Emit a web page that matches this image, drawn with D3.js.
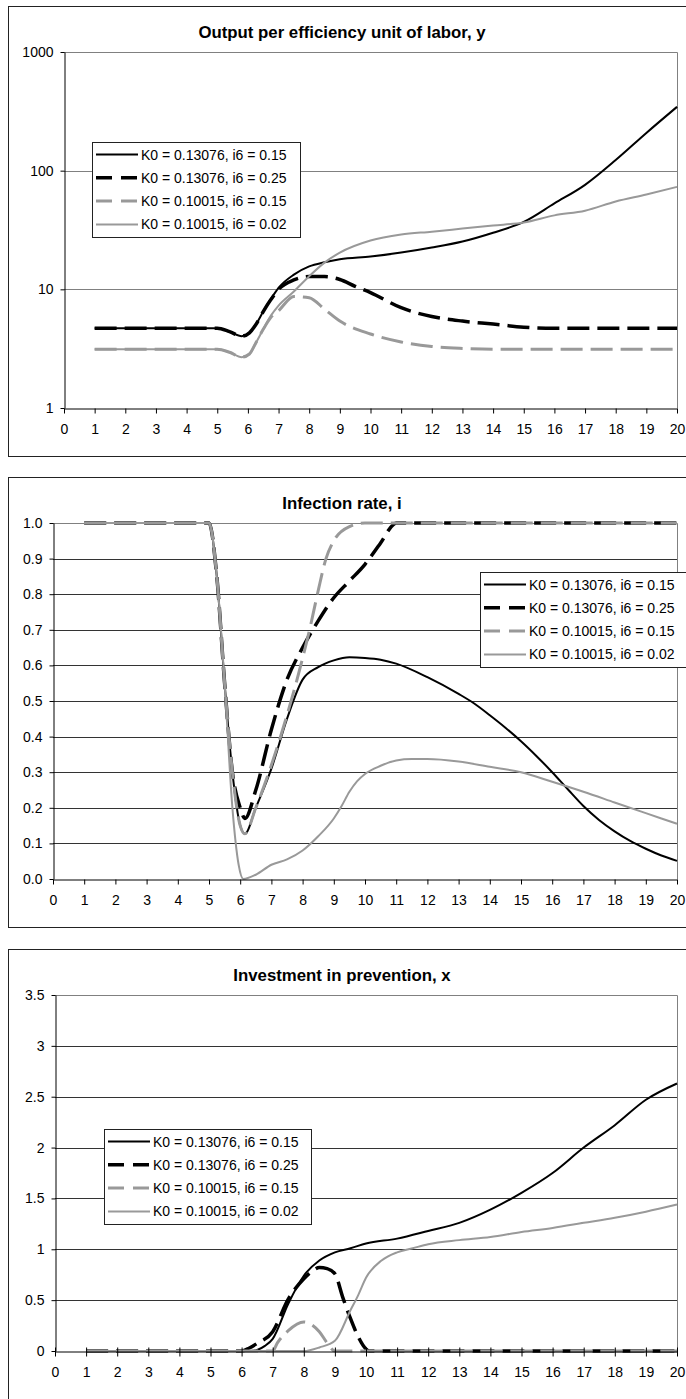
<!DOCTYPE html>
<html>
<head>
<meta charset="utf-8">
<script src="https://cdn.jsdelivr.net/npm/d3@7"></script>
<style>
body { margin: 0; background: #fff; }
svg { display: block; font-family: "Liberation Sans", Arial, sans-serif; }
</style>
</head>
<body>
<svg id="chart" width="686" height="1399"></svg>
<script>
// data: [t, value] pairs
var seriesLabels = ["K0 = 0.13076, i6 = 0.15", "K0 = 0.13076, i6 = 0.25",
                    "K0 = 0.10015, i6 = 0.15", "K0 = 0.10015, i6 = 0.02"];
var xTickValues = [0,1,2,3,4,5,6,7,8,9,10,11,12,13,14,15,16,17,18,19,20];

// output per efficiency unit of labor, y
var outA = [[1,4.7],[5,4.7],[5.4,4.4],[5.8,4.03],[6.05,4.3],[6.25,5.0],[6.5,6.5],[6.75,8.3],[7,10.3],[7.5,13.3],[8,15.6],[8.5,16.9],[9,17.9],[10,18.9],[11,20.4],[12,22.5],[13,25.3],[14,30],[15,37],[16,53],[17,76],[18,123],[19,208],[20,345]];
var outB = [[1,4.7],[5,4.7],[5.4,4.4],[5.8,4.03],[6.05,4.3],[6.25,5.0],[6.5,6.5],[6.75,8.2],[7,10],[7.5,12],[8,12.8],[8.5,12.8],[9,12.1],[9.5,10.6],[10,9.4],[11,7.0],[12,5.9],[13,5.4],[14,5.1],[15,4.8],[16,4.7],[20,4.7]];
var outC = [[1,3.13],[5,3.13],[5.4,2.95],[5.8,2.68],[6.05,2.85],[6.25,3.5],[6.5,4.6],[6.75,5.8],[7,6.6],[7.5,8.7],[8,8.5],[8.5,6.8],[9,5.4],[10,4.2],[11,3.6],[12,3.3],[13,3.18],[14,3.13],[20,3.13]];
var outD = [[1,3.13],[5,3.13],[5.4,2.95],[5.8,2.68],[6.05,2.85],[6.25,3.5],[6.5,4.6],[6.75,6.0],[7,7.3],[7.5,9.6],[8,12.9],[8.5,16.8],[9,20.4],[10,25.8],[11,29],[12,30.6],[13,32.5],[14,34.5],[15,36.6],[16,42],[17,46],[18,55],[19,63],[20,73]];

// infection rate, i
var infA = [[1,1],[5,1],[5.25,0.85],[5.5,0.55],[5.75,0.3],[6,0.15],[6.15,0.127],[6.5,0.2],[7,0.31],[7.5,0.45],[8,0.56],[8.5,0.595],[9,0.614],[9.5,0.623],[10,0.621],[10.5,0.616],[11,0.605],[12,0.567],[13,0.52],[13.5,0.493],[14,0.46],[14.5,0.425],[15,0.387],[15.5,0.345],[16,0.3],[16.5,0.252],[17,0.205],[17.5,0.166],[18,0.134],[18.5,0.107],[19,0.085],[19.5,0.066],[20,0.051]];
var infB = [[1,1],[5,1],[5.25,0.85],[5.5,0.55],[5.75,0.3],[6,0.2],[6.15,0.17],[6.5,0.25],[7,0.42],[7.5,0.56],[8,0.65],[8.5,0.725],[9,0.79],[9.5,0.837],[10,0.884],[10.5,0.944],[10.9,0.995],[11,1],[20,1]];
var infC = [[1,1],[5,1],[5.25,0.85],[5.5,0.55],[5.75,0.3],[6,0.15],[6.15,0.127],[6.5,0.2],[7,0.32],[7.5,0.46],[8,0.62],[8.25,0.71],[8.5,0.81],[8.75,0.9],[9,0.95],[9.5,0.99],[10,1],[20,1]];
var infD = [[1,1],[5,1],[5.25,0.85],[5.5,0.55],[5.75,0.2],[5.95,0.04],[6.1,0],[6.5,0.012],[7,0.04],[7.5,0.055],[8,0.08],[8.5,0.12],[9,0.17],[9.25,0.205],[9.5,0.245],[9.75,0.275],[10,0.295],[10.5,0.318],[11,0.333],[11.5,0.337],[12,0.337],[13,0.33],[14,0.315],[15,0.3],[16,0.273],[17,0.245],[18,0.215],[19,0.185],[20,0.155]];

// investment in prevention, x
var invA = [[1,0],[6.3,0],[6.5,0.01],[6.75,0.05],[7,0.12],[7.5,0.465],[8,0.74],[8.5,0.89],[9,0.97],[9.5,1.01],[10,1.057],[11,1.105],[12,1.18],[13,1.26],[14,1.39],[15,1.555],[16,1.75],[17,2.0],[18,2.22],[19,2.47],[20,2.63]];
var invB = [[1,0],[6,0],[6.25,0.03],[6.5,0.075],[7,0.19],[7.5,0.51],[8,0.71],[8.25,0.78],[8.5,0.82],[8.75,0.81],[9,0.76],[9.25,0.53],[9.5,0.32],[9.75,0.14],[10,0.02],[10.1,0],[20,0]];
var invC = [[1,0],[7,0],[7.15,0.08],[7.5,0.2],[8,0.285],[8.5,0.19],[8.75,0.08],[9,0],[20,0]];
var invD = [[1,0],[8,0],[8.5,0.035],[9,0.1],[9.5,0.4],[9.75,0.55],[10,0.72],[10.5,0.89],[11,0.97],[11.5,1.01],[12,1.05],[13,1.09],[14,1.12],[15,1.17],[16,1.21],[17,1.26],[18,1.31],[19,1.37],[20,1.44]];

var outTicks = [1, 10, 100, 1000];
var infTicks = [0, 0.1, 0.2, 0.3, 0.4, 0.5, 0.6, 0.7, 0.8, 0.9, 1.0];
var invTicks = [0, 0.5, 1, 1.5, 2, 2.5, 3, 3.5];

// line styles for the four series
var styles = [
  {color: "#000", width: 2, dash: null},
  {color: "#000", width: 3.5, dash: "22,8"},
  {color: "#999", width: 3, dash: "22,8"},
  {color: "#999", width: 2, dash: null}
];

var svg = d3.select("#chart");

function drawPanel(p) {
  var T = p.top,
      plotTop = T + 46, plotBottom = T + 402,
      left = p.left, right = 677;

  var g = svg.append("g");

  // chart border
  g.append("rect")
    .attr("x", 8.5).attr("y", T + 0.5)
    .attr("width", 700).attr("height", 450)
    .attr("fill", "#fff").attr("stroke", "#222").attr("stroke-width", 1);

  g.append("text")
    .attr("x", 342).attr("y", T + 32)
    .attr("text-anchor", "middle")
    .style("font-size", "16.8px").style("font-weight", "bold")
    .text(p.title);

  var x = d3.scaleLinear().domain([0, 20]).range([left, right]);
  var y = (p.log ? d3.scaleLog() : d3.scaleLinear())
    .domain(p.domain).range([plotBottom, plotTop]);

  // gridlines
  g.selectAll(".grid")
    .data(p.grid)
    .enter().append("line")
      .attr("x1", left).attr("x2", right)
      .attr("y1", d => Math.round(y(d)) + 0.5).attr("y2", d => Math.round(y(d)) + 0.5)
      .attr("stroke", p.gridColor).attr("stroke-width", 1);

  // plot area top / right edge
  g.append("path")
    .attr("d", "M" + left + "," + (plotTop + 0.5) + "H" + (right + 0.5) + "V" + plotBottom)
    .attr("fill", "none").attr("stroke", "#808080");

  var line = d3.line()
    .x(d => x(d[0]))
    .y(d => y(d[1]))
    .curve(d3.curveMonotoneX);

  p.series.forEach(function(s, i) {
    g.append("path")
      .datum(s)
      .attr("d", line)
      .attr("fill", "none")
      .attr("stroke", styles[i].color)
      .attr("stroke-width", styles[i].width)
      .attr("stroke-dasharray", styles[i].dash);
  });

  var xAxis = g.append("g")
    .attr("transform", "translate(0," + (Math.round(plotBottom) + 0.5) + ")")
    .call(d3.axisBottom(x).tickValues(xTickValues).tickSize(5).tickSizeOuter(0).tickPadding(11));
  if (p.crossTicks) xAxis.selectAll(".tick line").attr("y1", -4);

  g.append("g")
    .attr("transform", "translate(" + (left + 0.5) + ",0)")
    .call(d3.axisLeft(y).tickValues(p.ticks).tickFormat(p.format).tickSize(4).tickSizeOuter(0).tickPadding(7));

  g.selectAll(".tick text").style("font-size", "14px").attr("fill", "#000");
  g.selectAll(".domain, .tick line").attr("stroke", "#000");

  // legend
  var L = p.legend;
  var lg = g.append("g").attr("transform", "translate(" + L.x + "," + L.y + ")");
  lg.append("rect")
    .attr("x", 0.5).attr("y", 0.5).attr("width", L.w).attr("height", 95)
    .attr("fill", "#fff").attr("stroke", "#222");
  seriesLabels.forEach(function(lab, i) {
    var ry = 12.5 + 23.3 * i;
    lg.append("line")
      .attr("x1", 4).attr("x2", 46).attr("y1", ry).attr("y2", ry)
      .attr("stroke", styles[i].color)
      .attr("stroke-width", styles[i].width)
      .attr("stroke-dasharray", styles[i].dash ? "16,9" : null);
    lg.append("text")
      .attr("x", 49).attr("y", ry).attr("dy", "0.36em")
      .style("font-size", "14px")
      .text(lab);
  });
}

drawPanel({
  top: 6, left: 64, title: "Output per efficiency unit of labor, y",
  log: true, domain: [1, 1000], ticks: outTicks, format: d3.format("d"),
  grid: [10, 100], gridColor: "#808080",
  series: [outA, outB, outC, outD],
  legend: {x: 92, y: 142, w: 208}
});

drawPanel({
  top: 477, left: 53, title: "Infection rate, i",
  log: false, domain: [0, 1], ticks: infTicks, format: d3.format(".1f"),
  grid: [0.1, 0.2, 0.3, 0.4, 0.5, 0.6, 0.7, 0.8, 0.9], gridColor: "#333",
  series: [infA, infB, infC, infD],
  legend: {x: 480, y: 572, w: 230}
});

drawPanel({
  top: 949, left: 55, title: "Investment in prevention, x",
  log: false, domain: [0, 3.5], ticks: invTicks, format: d => d,
  grid: [0.5, 1, 1.5, 2, 2.5, 3], gridColor: "#333",
  series: [invA, invB, invC, invD],
  legend: {x: 104, y: 1129, w: 207},
  crossTicks: true
});
</script>
</body>
</html>
